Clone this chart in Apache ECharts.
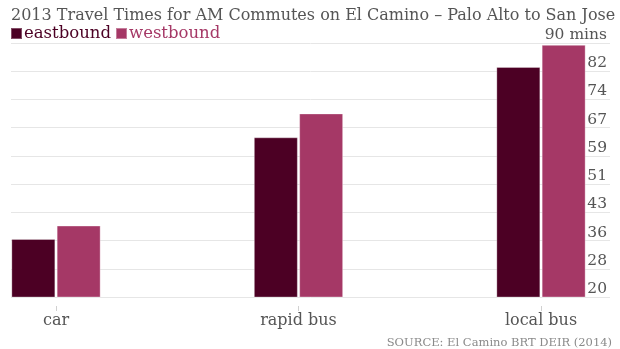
<!DOCTYPE html>
<html>
<head>
<meta charset="utf-8">
<script src="https://cdn.jsdelivr.net/npm/echarts@6/dist/echarts.min.js"></script>
<style>
  html, body { margin: 0; padding: 0; background: #fff; }
  #chart { width: 620px; height: 349px; }
</style>
</head>
<body>
<div id="chart"></div>
<script>
const categories = ['car', 'rapid bus', 'local bus']
const eastbound = [36.0, 64.0, 83.4]
const westbound = [39.7, 70.6, 89.5]
const yTicks = [20, 27.78, 35.56, 43.33, 51.11, 58.89, 66.67, 74.44, 82.22, 90]
const yTickLabels = ['20', '28', '36', '43', '51', '59', '67', '74', '82', '90 mins']

const eastColor = '#4c0024'
const westColor = '#a53866'
const gridColor = '#e6e6e6'
const textColor = '#555'
const font = 'DejaVu Serif'

const chart = echarts.init(document.getElementById('chart'))

const gridTop = 43
const gridBottom = 52

chart.setOption({
  animation: false,
  title: [
    {
      text: '2013 Travel Times for AM Commutes on El Camino \u2013 Palo Alto to San Jose',
      left: 6,
      top: 3,
      textStyle: { color: textColor, fontFamily: font, fontSize: 16, fontWeight: 'normal' },
    },
    {
      text: 'SOURCE: El Camino BRT DEIR (2014)',
      right: 3,
      top: 332,
      textStyle: { color: '#8a8a8a', fontFamily: font, fontSize: 11.5, fontWeight: 'normal' },
    },
  ],
  legend: {
    left: 10,
    top: 25,
    padding: 0,
    icon: 'rect',
    itemWidth: 11,
    itemHeight: 11,
    itemGap: 4,
    selectedMode: false,
    textStyle: { fontFamily: font, fontSize: 16.5, padding: [0, 0, 0, -3] },
    data: [
      { name: 'eastbound', textStyle: { color: eastColor } },
      { name: 'westbound', textStyle: { color: westColor } },
    ],
  },
  grid: [
    { left: 11, right: 10, top: gridTop, bottom: gridBottom },
    { left: 56, right: 79, top: gridTop, bottom: gridBottom },
  ],
  xAxis: [
    { gridIndex: 0, type: 'category', data: categories, show: false },
    {
      gridIndex: 1,
      type: 'category',
      data: categories,
      boundaryGap: false,
      offset: 9,
      axisLine: { show: false },
      axisTick: { show: true, length: 5, lineStyle: { color: '#d0d0d0' } },
      axisLabel: { color: textColor, fontFamily: font, fontSize: 16, margin: 7 },
    },
  ],
  yAxis: [
    {
      gridIndex: 0,
      type: 'value',
      position: 'right',
      min: 20,
      max: 90,
      axisLine: { show: false },
      axisTick: { show: false, customValues: yTicks },
      splitLine: { show: true, lineStyle: { color: gridColor, width: 1 } },
      axisLabel: {
        inside: true,
        customValues: yTicks,
        verticalAlign: 'bottom',
        margin: 3,
        color: textColor,
        fontFamily: font,
        fontSize: 15.5,
        formatter(v) {
          const i = yTicks.findIndex(t => Math.abs(t - v) < 0.01)
          return i >= 0 ? yTickLabels[i] : ''
        },
      },
    },
    { gridIndex: 1, type: 'value', min: 20, max: 90, show: false },
  ],
  series: [
    {
      name: 'eastbound',
      type: 'bar',
      xAxisIndex: 1,
      yAxisIndex: 1,
      data: eastbound,
      barWidth: 44,
      barGap: '3%',
      itemStyle: { color: eastColor, borderColor: 'rgba(255,255,255,0.3)', borderWidth: 1 },
    },
    {
      name: 'westbound',
      type: 'bar',
      xAxisIndex: 1,
      yAxisIndex: 1,
      data: westbound,
      barWidth: 44,
      itemStyle: { color: westColor, borderColor: 'rgba(255,255,255,0.35)', borderWidth: 1 },
    },
  ],
})

window.addEventListener('resize', () => chart.resize())
</script>
</body>
</html>
